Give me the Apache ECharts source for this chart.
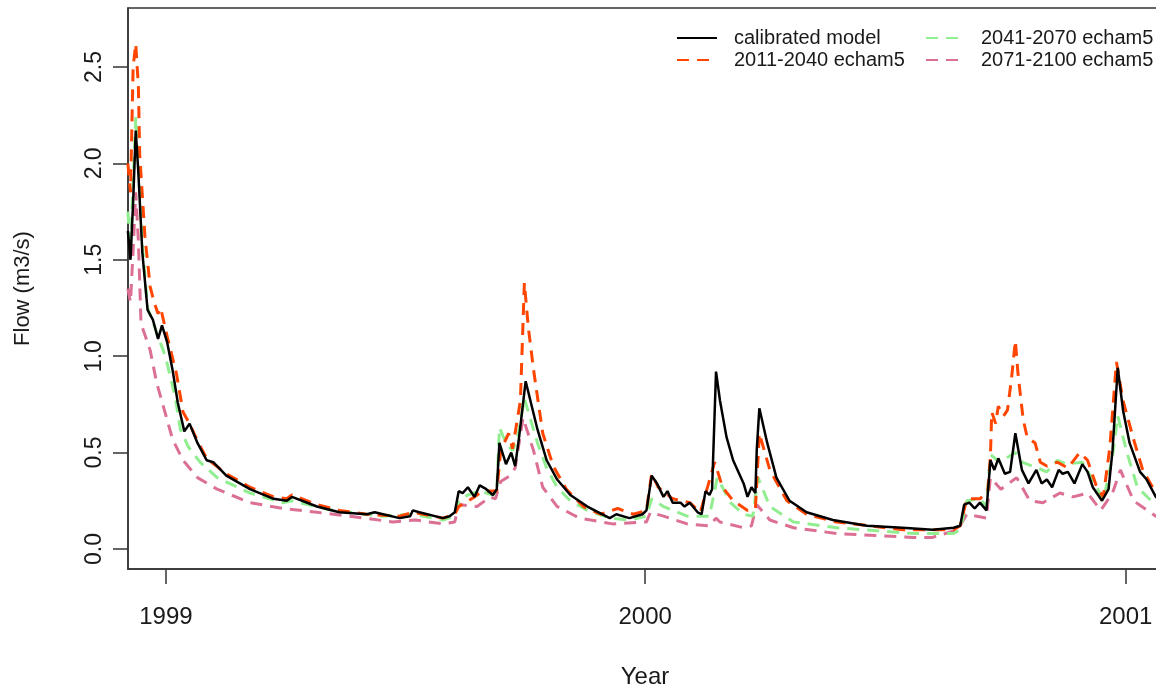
<!DOCTYPE html>
<html>
<head>
<meta charset="utf-8">
<script src="https://cdn.jsdelivr.net/npm/echarts@6/dist/echarts.min.js"></script>
<style>
  html, body { margin: 0; padding: 0; background: #fff; }
  #chart { width: 1156px; height: 687px; }
</style>
</head>
<body>
<div id="chart"></div>
<script>
// x values are days since 1999-01-01
const yearDays = [0, 365, 731];
const yearLabels = ['1999', '2000', '2001'];
const flowTicks = [0, 0.5, 1, 1.5, 2, 2.5];

const calDays = [-29, -27, -25, -23, -21, -18, -14, -10, -6, -3, 1, 5, 9, 14, 18, 24, 31, 36, 46, 64, 82, 92, 96, 115, 132, 153, 159, 178, 186, 188, 193, 211, 216, 220, 223, 226, 230, 235, 239, 244, 249, 252, 254, 259, 263, 266, 269, 274, 283, 290, 298, 308, 321, 338, 343, 353, 363, 366, 370, 374, 379, 382, 386, 392, 395, 399, 405, 408, 411, 414, 416, 419, 422, 427, 432, 440, 443, 446, 449, 450, 452, 458, 465, 475, 488, 508, 534, 561, 584, 600, 605, 608, 612, 616, 620, 625, 628, 631, 634, 639, 643, 647, 652, 657, 663, 667, 671, 675, 680, 683, 687, 692, 698, 702, 706, 713, 718, 721, 725, 729, 734, 742, 747, 754, 760];
const calFlow = [1.65, 1.50, 1.80, 2.17, 1.95, 1.54, 1.24, 1.19, 1.09, 1.16, 1.07, 0.93, 0.76, 0.61, 0.65, 0.55, 0.46, 0.45, 0.38, 0.31, 0.26, 0.25, 0.27, 0.22, 0.19, 0.18, 0.19, 0.16, 0.17, 0.20, 0.19, 0.16, 0.17, 0.19, 0.30, 0.29, 0.32, 0.27, 0.33, 0.31, 0.28, 0.31, 0.55, 0.44, 0.50, 0.43, 0.58, 0.87, 0.62, 0.46, 0.36, 0.28, 0.22, 0.16, 0.18, 0.16, 0.18, 0.20, 0.38, 0.34, 0.27, 0.30, 0.24, 0.24, 0.22, 0.24, 0.19, 0.18, 0.30, 0.28, 0.31, 0.92, 0.77, 0.58, 0.46, 0.34, 0.27, 0.32, 0.29, 0.51, 0.73, 0.55, 0.37, 0.25, 0.19, 0.15, 0.12, 0.11, 0.10, 0.11, 0.12, 0.23, 0.24, 0.21, 0.24, 0.20, 0.46, 0.41, 0.47, 0.39, 0.40, 0.60, 0.41, 0.34, 0.41, 0.34, 0.36, 0.32, 0.41, 0.39, 0.40, 0.34, 0.44, 0.40, 0.32, 0.25, 0.31, 0.51, 0.94, 0.72, 0.55, 0.40, 0.36, 0.27, 0.24];

const e2011Days = [-29, -27, -25, -23, -21, -20, -16, -12, -9, -6, -4, 1, 8, 13, 18, 24, 31, 46, 64, 82, 92, 96, 115, 132, 153, 178, 188, 211, 220, 223, 228, 235, 239, 245, 252, 255, 261, 264, 270, 273, 276, 280, 287, 295, 305, 318, 331, 344, 356, 366, 370, 375, 386, 399, 407, 418, 424, 432, 443, 449, 452, 460, 473, 488, 511, 561, 600, 605, 610, 620, 626, 628, 629, 632, 634, 638, 641, 644, 647, 649, 653, 656, 662, 666, 671, 679, 687, 696, 702, 709, 714, 719, 724, 729, 737, 744, 754, 760];
const e2011Flow = [2.00, 1.85, 2.50, 2.62, 2.40, 2.05, 1.62, 1.36, 1.28, 1.22, 1.25, 1.10, 0.91, 0.71, 0.65, 0.56, 0.47, 0.39, 0.32, 0.27, 0.26, 0.28, 0.23, 0.20, 0.18, 0.17, 0.19, 0.16, 0.18, 0.22, 0.24, 0.27, 0.29, 0.30, 0.30, 0.51, 0.60, 0.52, 0.77, 1.38, 1.15, 0.93, 0.60, 0.43, 0.31, 0.22, 0.18, 0.21, 0.18, 0.20, 0.39, 0.32, 0.26, 0.24, 0.19, 0.45, 0.32, 0.25, 0.20, 0.21, 0.60, 0.41, 0.25, 0.18, 0.14, 0.10, 0.10, 0.12, 0.26, 0.26, 0.30, 0.48, 0.71, 0.65, 0.74, 0.69, 0.72, 0.88, 1.08, 0.91, 0.67, 0.58, 0.55, 0.45, 0.43, 0.45, 0.42, 0.50, 0.46, 0.32, 0.27, 0.53, 0.97, 0.77, 0.57, 0.41, 0.29, 0.25];

const e2041Days = [-29, -27, -25, -23, -21, -18, -14, -10, -6, -2, 1, 7, 11, 17, 26, 39, 64, 89, 96, 127, 165, 188, 211, 220, 223, 230, 239, 249, 252, 254, 259, 264, 268, 273, 283, 290, 298, 308, 321, 338, 353, 366, 370, 379, 397, 414, 420, 430, 440, 447, 451, 460, 478, 511, 569, 600, 605, 610, 620, 625, 628, 635, 647, 652, 660, 671, 679, 686, 698, 709, 714, 721, 725, 732, 740, 752, 760];
const e2041Flow = [1.75, 1.55, 1.90, 2.24, 2.00, 1.58, 1.25, 1.18, 1.10, 1.03, 0.96, 0.79, 0.62, 0.53, 0.45, 0.37, 0.29, 0.24, 0.25, 0.20, 0.17, 0.18, 0.15, 0.17, 0.25, 0.28, 0.30, 0.28, 0.30, 0.63, 0.55, 0.51, 0.58, 0.78, 0.55, 0.42, 0.32, 0.25, 0.20, 0.16, 0.15, 0.17, 0.26, 0.22, 0.17, 0.17, 0.37, 0.24, 0.18, 0.17, 0.37, 0.22, 0.14, 0.11, 0.08, 0.08, 0.10, 0.25, 0.26, 0.22, 0.49, 0.45, 0.50, 0.45, 0.43, 0.40, 0.46, 0.44, 0.45, 0.32, 0.25, 0.48, 0.69, 0.50, 0.32, 0.24, 0.21];

const e2071Days = [-29, -27, -25, -23, -21, -19, -12, -7, -2, 5, 13, 24, 39, 64, 89, 115, 140, 173, 190, 211, 220, 223, 237, 247, 251, 255, 262, 266, 272, 280, 287, 298, 315, 340, 366, 369, 379, 397, 414, 419, 422, 440, 446, 450, 460, 478, 511, 569, 584, 603, 610, 625, 628, 636, 648, 658, 668, 681, 691, 702, 712, 721, 727, 737, 754, 760];
const e2071Flow = [1.35, 1.28, 1.55, 1.85, 1.60, 1.17, 1.03, 0.86, 0.74, 0.57, 0.46, 0.37, 0.31, 0.24, 0.21, 0.19, 0.17, 0.14, 0.15, 0.13, 0.14, 0.23, 0.22, 0.27, 0.26, 0.35, 0.38, 0.42, 0.68, 0.51, 0.32, 0.22, 0.16, 0.13, 0.14, 0.19, 0.17, 0.13, 0.12, 0.16, 0.14, 0.11, 0.12, 0.23, 0.15, 0.11, 0.08, 0.06, 0.06, 0.10, 0.18, 0.16, 0.37, 0.31, 0.37, 0.25, 0.24, 0.29, 0.27, 0.29, 0.20, 0.29, 0.41, 0.25, 0.17, 0.15];

const pair = (xs, ys) => xs.map((x, i) => [x, ys[i]]);

const chart = echarts.init(document.getElementById('chart'));

const axisColor = '#333';
const textColor = '#1a1a1a';
const font = 'Liberation Sans, Arial, sans-serif';

function lineSeries(name, xs, ys, color, dashed, z) {
  return {
    name: name,
    type: 'line',
    data: pair(xs, ys),
    showSymbol: false,
    symbol: 'none',
    animation: false,
    z: z,
    lineStyle: {
      color: color,
      width: dashed ? 3 : 2.5,
      type: dashed ? [12, 8] : 'solid'
    },
    itemStyle: { color: color }
  };
}

const legendCommon = {
  orient: 'vertical',
  top: 28,
  padding: 0,
  itemWidth: 40,
  itemHeight: 14,
  itemGap: 2,
  itemStyle: { opacity: 0 },
  textStyle: { fontSize: 20, color: textColor, fontFamily: font }
};

const option = {
  backgroundColor: '#fff',
  animation: false,
  grid: {
    left: 128,
    top: 8,
    right: -6,
    bottom: 118,
    show: true,
    borderColor: axisColor,
    borderWidth: 1.5,
    containLabel: false,
    outerBoundsMode: 'none'
  },
  legend: [
    Object.assign({}, legendCommon, {
      left: 676,
      data: ['calibrated model', '2011-2040 echam5'],
      textStyle: Object.assign({}, legendCommon.textStyle, { padding: [0, 0, 0, 12] })
    }),
    Object.assign({}, legendCommon, {
      left: 925,
      data: ['2041-2070 echam5', '2071-2100 echam5'],
      textStyle: Object.assign({}, legendCommon.textStyle, { padding: [0, 0, 0, 10] })
    })
  ],
  xAxis: {
    type: 'value',
    min: -28.9,
    max: 758.7,
    name: 'Year',
    nameLocation: 'middle',
    nameGap: 96,
    nameTextStyle: { fontSize: 24, color: textColor, fontFamily: font },
    splitLine: { show: false },
    axisLine: { show: true, onZero: false, lineStyle: { color: axisColor, width: 1.5 } },
    axisTick: { show: true, customValues: yearDays, length: 15, lineStyle: { color: axisColor, width: 1.5 } },
    axisLabel: {
      customValues: yearDays,
      margin: 36,
      fontSize: 24,
      color: textColor,
      fontFamily: font,
      formatter: v => yearLabels[yearDays.indexOf(v)] || ''
    }
  },
  yAxis: {
    type: 'value',
    min: -0.104,
    max: 2.806,
    name: 'Flow (m3/s)',
    nameLocation: 'middle',
    nameGap: 94,
    nameTextStyle: { fontSize: 22, color: textColor, fontFamily: font },
    splitLine: { show: false },
    axisLine: { show: true, onZero: false, lineStyle: { color: axisColor, width: 1.5 } },
    axisTick: { show: true, customValues: flowTicks, length: 15, lineStyle: { color: axisColor, width: 1.5 } },
    axisLabel: {
      customValues: flowTicks,
      rotate: 90,
      margin: 22,
      fontSize: 23,
      color: textColor,
      fontFamily: font,
      formatter: v => v.toFixed(1)
    }
  },
  series: [
    lineSeries('2071-2100 echam5', e2071Days, e2071Flow, '#DB7093', true, 2),
    lineSeries('2041-2070 echam5', e2041Days, e2041Flow, '#90EE90', true, 3),
    lineSeries('2011-2040 echam5', e2011Days, e2011Flow, '#FF4500', true, 4),
    lineSeries('calibrated model', calDays, calFlow, '#000000', false, 5)
  ]
};

chart.setOption(option);
</script>
</body>
</html>
